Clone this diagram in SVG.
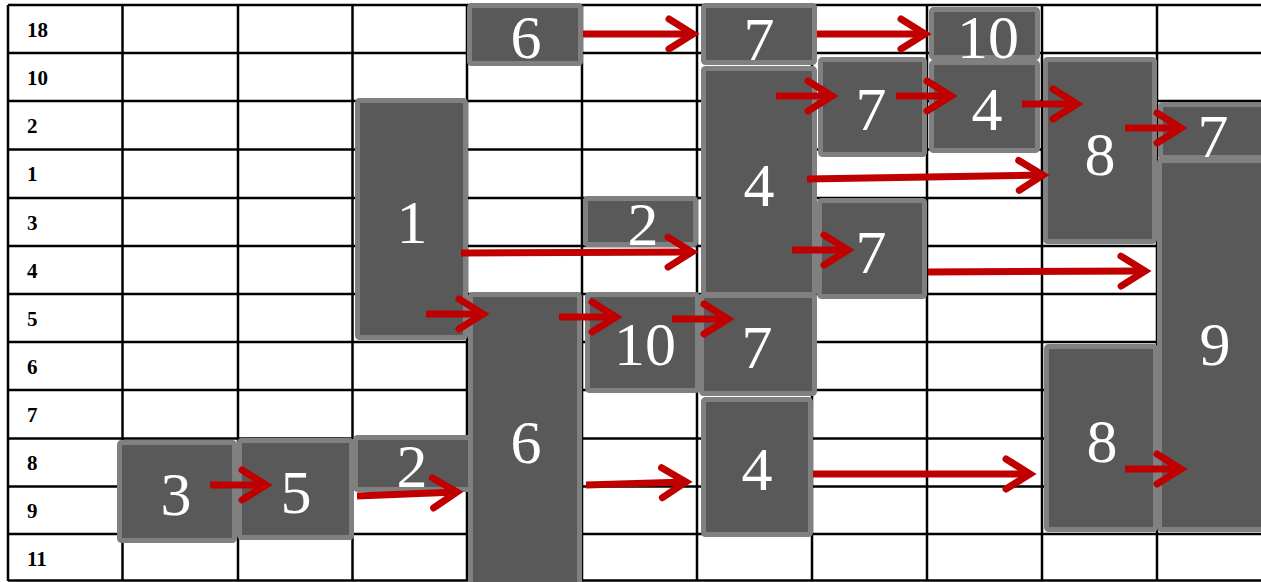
<svg xmlns="http://www.w3.org/2000/svg" width="1261" height="582" viewBox="0 0 1261 582">
<style>
.grid line{stroke:#000;stroke-width:2.5}
.lbl{font-family:"Liberation Serif","Times New Roman",serif;font-weight:bold;font-size:21px;fill:#000}
.box{fill:#595959;stroke:#808080;stroke-width:5}
.num{font-family:"Liberation Serif","Times New Roman",serif;font-size:62px;fill:#fff;text-anchor:middle}
.arr{stroke:#C00000;stroke-width:7;fill:none;marker-end:url(#ah)}
</style>
<defs>
<marker id="ah" markerUnits="userSpaceOnUse" viewBox="0 0 50 40" markerWidth="50" markerHeight="40" refX="33" refY="20" orient="auto">
<path d="M9,5 L33,20 L9,35" fill="none" stroke="#C00000" stroke-width="7" stroke-linecap="round" stroke-linejoin="miter"/>
</marker>
</defs>
<rect width="1261" height="582" fill="#fff"/>
<g id="grid" class="grid">
<line x1="8" y1="5" x2="1261" y2="5"/>
<line x1="8" y1="53" x2="1261" y2="53"/>
<line x1="8" y1="101" x2="1261" y2="101"/>
<line x1="8" y1="149.5" x2="1261" y2="149.5"/>
<line x1="8" y1="198" x2="1261" y2="198"/>
<line x1="8" y1="246" x2="1261" y2="246"/>
<line x1="8" y1="294" x2="1261" y2="294"/>
<line x1="8" y1="342" x2="1261" y2="342"/>
<line x1="8" y1="390" x2="1261" y2="390"/>
<line x1="8" y1="438.5" x2="1261" y2="438.5"/>
<line x1="8" y1="486.5" x2="1261" y2="486.5"/>
<line x1="8" y1="534" x2="1261" y2="534"/>
<line x1="8" y1="580.5" x2="1261" y2="580.5"/>
<line x1="8" y1="5" x2="8" y2="581"/>
<line x1="122.5" y1="5" x2="122.5" y2="581"/>
<line x1="238" y1="5" x2="238" y2="581"/>
<line x1="352.5" y1="5" x2="352.5" y2="581"/>
<line x1="467" y1="5" x2="467" y2="581"/>
<line x1="582" y1="5" x2="582" y2="581"/>
<line x1="697" y1="5" x2="697" y2="581"/>
<line x1="812" y1="5" x2="812" y2="581"/>
<line x1="927" y1="5" x2="927" y2="581"/>
<line x1="1042" y1="5" x2="1042" y2="581"/>
<line x1="1157" y1="5" x2="1157" y2="581"/>
</g>
<g id="row-labels" class="lbl">
<text x="27" y="37">18</text>
<text x="27" y="85">10</text>
<text x="27" y="133">2</text>
<text x="27" y="181">1</text>
<text x="27" y="230">3</text>
<text x="27" y="278">4</text>
<text x="27" y="326">5</text>
<text x="27" y="374">6</text>
<text x="27" y="422">7</text>
<text x="27" y="470">8</text>
<text x="27" y="518">9</text>
<text x="27" y="566">11</text>
</g>
<g id="n-2-mid"><rect class="box" x="585.5" y="198.5" width="110" height="46" rx="2"/><text class="num" x="643" y="245">2</text></g>
<g id="n-6-top"><rect class="box" x="469.5" y="5.5" width="111" height="58" rx="2"/><text class="num" x="526" y="58">6</text></g>
<g id="n-7-top"><rect class="box" x="703.5" y="5.5" width="111" height="57" rx="2"/><text class="num" x="759" y="60">7</text></g>
<g id="n-10-top"><rect class="box" x="931.5" y="9.5" width="106" height="48" rx="2"/><text class="num" x="988" y="58">10</text></g>
<g id="n-4-small"><rect class="box" x="931.5" y="62.5" width="106" height="88" rx="2"/><text class="num" x="987" y="130">4</text></g>
<g id="n-7-r2"><rect class="box" x="820.5" y="59.5" width="104" height="95" rx="2"/><text class="num" x="871" y="130">7</text></g>
<g id="n-4-tall"><rect class="box" x="703.5" y="68.5" width="111" height="226" rx="2"/><text class="num" x="759" y="206">4</text></g>
<g id="n-7-r4"><rect class="box" x="819.5" y="200.5" width="105" height="96" rx="2"/><text class="num" x="871" y="273">7</text></g>
<g id="n-1"><rect class="box" x="357.5" y="100.5" width="108" height="237" rx="2"/><text class="num" x="412" y="243">1</text></g>
<g id="n-6-tall"><rect class="box" x="470.5" y="294.5" width="109" height="300" rx="2"/><text class="num" x="526" y="463">6</text></g>
<g id="n-10-mid"><rect class="box" x="587.5" y="294.5" width="110" height="96" rx="2"/><text class="num" x="645" y="365">10</text></g>
<g id="n-7-mid"><rect class="box" x="701.5" y="295.5" width="113" height="98" rx="2"/><text class="num" x="757" y="368">7</text></g>
<g id="n-4-low"><rect class="box" x="703.5" y="399.5" width="107" height="135" rx="2"/><text class="num" x="757" y="490">4</text></g>
<g id="n-3"><rect class="box" x="119.5" y="442.5" width="115" height="98" rx="2"/><text class="num" x="176" y="515">3</text></g>
<g id="n-5"><rect class="box" x="239.5" y="440.5" width="112" height="97" rx="2"/><text class="num" x="296" y="513">5</text></g>
<g id="n-2-low"><rect class="box" x="355.5" y="437.5" width="115" height="52" rx="2"/><text class="num" x="412" y="487">2</text></g>
<g id="n-8-up"><rect class="box" x="1045.5" y="59.5" width="109" height="182" rx="2"/><text class="num" x="1100" y="175">8</text></g>
<g id="n-7-right"><rect class="box" x="1160.5" y="104.5" width="110" height="53" rx="2"/><text class="num" x="1213" y="157">7</text></g>
<g id="n-9"><rect class="box" x="1159.5" y="160.5" width="110" height="369" rx="2"/><text class="num" x="1215" y="365">9</text></g>
<g id="n-8-low"><rect class="box" x="1046.5" y="346.5" width="109" height="183" rx="2"/><text class="num" x="1102" y="462">8</text></g>
<g id="connectors">
<path class="arr" d="M583,34 L693,34"/>
<path class="arr" d="M817,34 L925,34"/>
<path class="arr" d="M776,96 L832,96"/>
<path class="arr" d="M896,96 L951,96"/>
<path class="arr" d="M1022,104 L1077,104"/>
<path class="arr" d="M1125,128 L1181,128"/>
<path class="arr" d="M807,179 L1043,175"/>
<path class="arr" d="M461,253 L692,252"/>
<path class="arr" d="M792,250 L848,250"/>
<path class="arr" d="M928,272 L1145,271"/>
<path class="arr" d="M426,314 L483,314"/>
<path class="arr" d="M559,317 L616,317"/>
<path class="arr" d="M672,319 L728,319"/>
<path class="arr" d="M210,485 L266,485"/>
<path class="arr" d="M357,496 L457,492"/>
<path class="arr" d="M586,485 L686,482"/>
<path class="arr" d="M813,474 L1030,474"/>
<path class="arr" d="M1125,469 L1181,469"/>
</g>
</svg>
